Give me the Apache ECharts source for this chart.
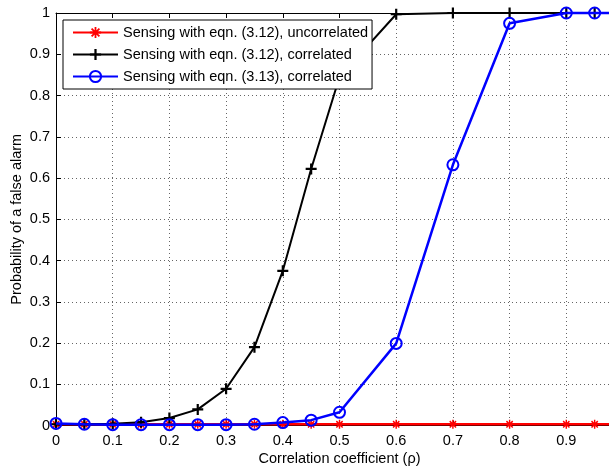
<!DOCTYPE html>
<html>
<head>
<meta charset="utf-8">
<script src="https://cdn.jsdelivr.net/npm/echarts@6/dist/echarts.min.js"></script>
<style>html,body{margin:0;padding:0;background:#fff;}#c{width:609px;height:471px;}</style>
</head>
<body>
<div id="c"></div>
<script>
const rho = [0,0.05,0.1,0.15,0.2,0.25,0.3,0.35,0.4,0.45,0.5,0.6,0.7,0.8,0.9,0.95,1.0];
const uncorr312 = [0.003,0.003,0.003,0.003,0.003,0.003,0.003,0.003,0.003,0.003,0.003,0.003,0.003,0.003,0.003,0.003,0.003];
const corr312 = [0.003,0.003,0.004,0.008,0.018,0.039,0.089,0.19,0.375,0.622,0.845,0.997,1,1,1,1,1];
const corr313 = [0.005,0.003,0.002,0.002,0.002,0.002,0.002,0.003,0.007,0.013,0.032,0.199,0.632,0.975,1,1,1];
const xTicks = ['0','0.1','0.2','0.3','0.4','0.5','0.6','0.7','0.8','0.9','1'];
const yTicks = ['0','0.1','0.2','0.3','0.4','0.5','0.6','0.7','0.8','0.9','1'];
const names = ['Sensing with eqn. (3.12), uncorrelated','Sensing with eqn. (3.12), correlated','Sensing with eqn. (3.13), correlated'];

const FONT = 'Liberation Sans, Arial, Helvetica, sans-serif';
const FS = 14.5;
const plusPath = 'path://M4,0H6V4H10V6H6V10H4V6H0V4H4Z';
const starPath = 'path://M4.2,0H5.8V10H4.2Z M0,4.2H10V5.8H0Z M2.07,0.93L9.07,7.93L7.93,9.07L0.93,2.07Z M7.93,0.93L9.07,2.07L2.07,9.07L0.93,7.93Z';
const pairs = ys => rho.map((x,i)=>[x, ys[i]]);
const idx = v => Math.round(v*10);

const chart = echarts.init(document.getElementById('c'), null, {renderer:'canvas'});
chart.setOption({
  animation:false,
  backgroundColor:'#fff',
  textStyle:{fontFamily:FONT},
  grid:{left:56, top:13, width:567, height:412.5, containLabel:false, outerBoundsMode:'none'},
  legend:{
    orient:'vertical', left:63, top:20,
    padding:[5,4,5,9], itemGap:7, itemWidth:45, itemHeight:14,
    backgroundColor:'#fff', borderColor:'#000', borderWidth:1, borderRadius:0,
    textStyle:{fontFamily:FONT, fontSize:FS, color:'#000', lineHeight:14},
    data:names
  },
  xAxis:[{
    type:'value', min:0, max:1, interval:0.1, position:'bottom',
    name:'Correlation coefficient (\u03c1)', nameLocation:'middle', nameGap:26, nameMoveOverlap:false,
    nameTextStyle:{fontFamily:FONT, fontSize:FS, color:'#000'},
    axisLine:{show:true, onZero:false, lineStyle:{color:'#000', width:1}},
    axisTick:{show:true, inside:true, length:5, lineStyle:{color:'#000'}},
    axisLabel:{fontFamily:FONT, fontSize:FS, color:'#000', margin:8, formatter:v=>xTicks[idx(v)]},
    splitLine:{show:true, lineStyle:{color:'#666', type:[1,3], width:1}}
  },{
    type:'value', min:0, max:1, interval:0.1, position:'top',
    axisLine:{show:true, onZero:false, lineStyle:{color:'#000', width:1}},
    axisTick:{show:true, inside:true, length:5, lineStyle:{color:'#000'}},
    axisLabel:{show:false}, splitLine:{show:false}
  }],
  yAxis:[{
    type:'value', min:0, max:1, interval:0.1, position:'left',
    name:'Probability of a false alarm', nameLocation:'middle', nameGap:32, nameRotate:90, nameMoveOverlap:false,
    nameTextStyle:{fontFamily:FONT, fontSize:FS, color:'#000'},
    axisLine:{show:true, onZero:false, lineStyle:{color:'#000', width:1}},
    axisTick:{show:true, inside:true, length:5, lineStyle:{color:'#000'}},
    axisLabel:{fontFamily:FONT, fontSize:FS, color:'#000', margin:6, formatter:v=>yTicks[idx(v)]},
    splitLine:{show:true, lineStyle:{color:'#666', type:[1,3], width:1}}
  },{
    type:'value', min:0, max:1, interval:0.1, position:'right',
    axisLine:{show:true, onZero:false, lineStyle:{color:'#000', width:1}},
    axisTick:{show:true, inside:true, length:5, lineStyle:{color:'#000'}},
    axisLabel:{show:false}, splitLine:{show:false}
  }],
  series:[{
    name:names[0], type:'line', data:pairs(uncorr312), clip:false,
    symbol:starPath, symbolSize:9, showAllSymbol:true,
    lineStyle:{color:'#ff0000', width:2.5},
    itemStyle:{color:'#ff0000'}, z:2
  },{
    name:names[1], type:'line', data:pairs(corr312), clip:false,
    symbol:plusPath, symbolSize:11, showAllSymbol:true,
    lineStyle:{color:'#000', width:2},
    itemStyle:{color:'#000'}, z:3
  },{
    name:names[2], type:'line', data:pairs(corr313), clip:false,
    symbol:'circle', symbolSize:11, showAllSymbol:true,
    lineStyle:{color:'#0000ff', width:2.5},
    itemStyle:{color:'rgba(0,0,0,0)', borderColor:'#0000ff', borderWidth:2}, z:4
  }]
});
</script>
</body>
</html>
